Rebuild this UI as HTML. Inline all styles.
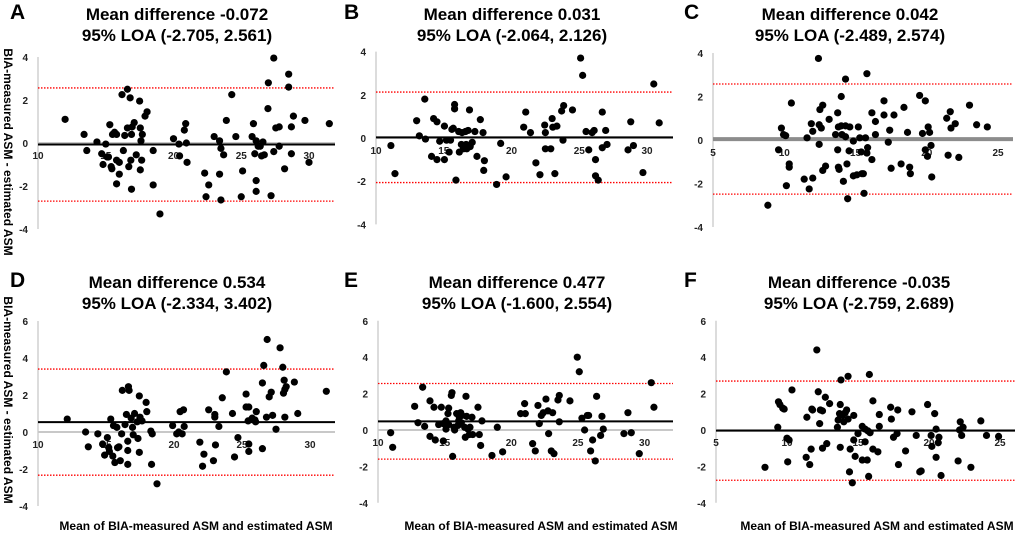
<!DOCTYPE html>
<html><head><meta charset="utf-8">
<style>
html,body{margin:0;padding:0;background:#fff;}
body{width:1020px;height:536px;overflow:hidden;position:relative;font-family:"Liberation Sans","Noto Sans CJK KR",sans-serif;}
svg{position:absolute;left:0;top:0;}
</style></head>
<body>
<svg id="chart" width="1020" height="536" viewBox="0 0 1020 536" xmlns="http://www.w3.org/2000/svg"></svg>
<script>
// ---- data ----
const aX=[12.0,13.4,13.6,14.35,14.7,14.8,15.0,15.1,15.2,15.3,15.4,15.45,15.5,15.65,15.8,15.8,15.8,16.0,16.0,16.2,16.3,16.4,16.6,16.6,16.7,16.8,16.85,16.9,16.9,16.95,17.1,17.25,17.5,17.55,17.55,17.6,17.65,17.7,17.9,18.05,18.5,18.5,19.0,20.0,20.4,20.45,20.8,20.9,20.95,21.0,22.3,22.4,22.6,23.0,23.4,23.4,23.5,23.5,23.7,23.9,24.3,24.6,25.1,25.0,25.8,25.9,26.0,26.1,26.1,26.1,26.25,26.4,26.5,26.6,26.7,26.97,27.0,27.2,27.4,27.4,27.55,27.8,27.8,28.2,28.5,28.5,28.7,28.7,28.85,29.7,30.0,31.5];
const aY=[1.1,0.4,-0.35,0.05,-0.5,-1.0,-0.05,-0.65,-0.65,0.85,-1.1,-1.2,0.4,0.5,0.4,-1.9,-0.8,-0.9,-1.45,2.25,-0.35,0.35,2.5,0.7,-1.1,2.1,-0.8,-2.15,0.4,0.75,0.95,-0.55,1.95,0.7,-1.25,0.1,-0.8,0.4,1.25,1.45,-0.35,-1.95,-3.3,0.2,-0.05,-0.6,0.6,0.9,0.0,-0.9,-1.4,-2.5,-1.95,0.3,0.1,-1.45,-2.65,-0.25,-0.55,1.05,2.25,0.3,-1.3,-2.5,0.3,0.9,-0.5,-1.75,-2.25,0.1,-0.15,-0.15,-0.6,0.05,-0.55,1.6,2.8,-2.45,3.95,-0.4,0.7,0.75,-0.15,-1.2,3.2,2.6,-0.5,0.75,1.25,1.05,-0.9,0.9];
const bX=[11.1,11.4,13.0,13.2,13.6,13.65,14.1,14.25,14.5,14.5,14.7,15.05,15.05,15.2,15.4,15.5,15.6,15.7,15.8,15.8,15.9,16.1,16.15,16.3,16.35,16.45,16.6,16.65,16.7,16.8,16.9,16.95,17.1,17.3,17.45,17.7,17.9,18.0,17.95,18.9,19.2,19.6,20.9,21.05,21.4,21.8,22.1,22.45,22.5,22.5,22.9,23.0,23.05,23.2,23.35,23.7,23.85,23.8,24.5,25.1,25.25,25.5,25.7,25.95,26.1,26.2,26.2,26.4,26.7,26.7,26.95,27.05,28.6,28.8,29.0,29.7,30.5,30.9];
const bY=[-0.35,-1.65,0.8,0.1,1.8,-0.05,-0.85,0.9,0.75,-1.0,-0.15,0.55,-1.0,-0.1,-0.65,-0.1,0.4,0.45,1.55,1.35,-1.95,0.3,-0.65,-0.3,0.25,-0.5,0.3,-0.3,-0.5,0.35,1.3,-0.4,-0.2,0.3,-0.85,0.85,0.25,-1.05,-1.5,-2.15,-0.25,-1.8,0.5,1.2,0.25,-1.15,-1.7,0.6,0.25,-0.5,-0.5,0.9,0.5,-1.65,0.55,1.25,1.5,-0.1,1.3,3.7,2.9,0.3,-0.55,0.25,0.35,-1.0,-1.75,-1.95,1.2,-0.45,0.35,-0.3,-0.55,0.75,-0.35,-1.6,2.5,0.7];
const cX=[8.85,9.6,9.8,9.95,10.1,10.15,10.35,10.35,10.5,11.4,11.6,11.75,11.9,12.0,12.0,12.4,12.45,12.45,12.5,12.6,12.7,12.7,12.9,13.15,13.6,13.75,13.75,13.8,13.8,13.85,14.0,14.0,14.05,14.15,14.3,14.3,14.3,14.4,14.45,14.55,14.6,14.85,14.85,15.1,15.2,15.3,15.4,15.45,15.55,15.6,15.7,15.8,15.8,15.85,16.15,16.15,16.4,16.4,17.0,17.0,17.3,17.4,17.5,17.7,18.2,18.4,18.65,18.8,18.85,19.5,19.7,19.9,19.9,20.05,20.1,20.2,20.3,20.35,21.4,21.5,21.65,21.7,22.0,22.25,23.0,23.5,24.25];
const cY=[-3.0,-0.45,0.55,0.25,0.2,-2.1,-1.1,-1.25,1.7,-1.8,0.1,-2.25,0.75,-1.75,0.4,3.75,-0.2,0.7,1.4,0.55,-1.4,1.6,-1.2,0.95,0.25,1.25,-0.45,0.6,-1.25,-1.35,0.65,2.0,0.25,-1.9,0.65,2.8,0.15,-1.1,-2.7,-0.5,0.6,-0.05,-1.65,-1.6,0.6,0.1,-0.55,-1.55,-1.55,-2.45,0.1,3.05,-0.6,-0.35,-0.9,1.25,0.85,0.25,1.8,1.15,-0.1,0.45,-1.3,1.15,-1.1,1.5,0.35,-1.25,-1.55,2.05,0.3,-0.45,1.8,-0.75,0.6,0.35,-0.25,-1.7,1.0,-0.7,1.3,0.55,0.75,-0.8,1.6,0.7,0.6];
const dX=[12.15,13.5,13.7,14.4,14.75,14.9,15.1,15.2,15.25,15.35,15.5,15.55,15.65,15.8,15.85,15.95,16.05,16.15,16.2,16.4,16.5,16.6,16.6,16.6,16.65,16.7,16.85,16.95,17.0,17.1,17.3,17.35,17.45,17.45,17.5,17.65,17.95,18.0,18.3,18.35,18.4,18.75,19.9,20.2,20.35,20.45,20.6,20.7,20.75,21.9,22.1,22.2,22.55,22.9,23.0,23.0,23.05,23.3,23.55,23.85,24.3,24.45,24.7,25.3,25.3,25.5,25.5,25.5,25.45,25.75,25.95,26.0,26.05,26.5,26.5,26.6,26.8,26.85,27.0,27.15,27.25,27.5,27.8,28.0,28.05,28.1,28.15,28.15,28.25,28.85,29.1,31.2];
const dY=[0.7,0.0,-0.8,-0.1,-0.65,-1.25,-0.3,-0.85,-1.05,0.7,-1.3,0.35,-1.65,0.25,-0.85,-0.8,-1.55,-0.1,2.25,0.4,0.95,-0.5,-1.0,-1.75,2.45,2.25,0.75,0.25,-0.15,1.0,0.55,-0.35,1.95,-1.1,0.8,0.6,1.6,1.1,0.05,-1.75,-0.1,-2.8,0.35,-0.1,0.0,1.1,-0.1,1.2,0.3,-0.55,-1.85,-1.2,1.2,-1.55,0.95,0.8,-0.7,0.3,1.85,3.25,1.0,-1.35,-0.3,2.05,1.35,1.35,-0.65,-1.05,0.6,0.75,0.65,0.55,1.1,2.65,-0.9,3.6,0.8,5.0,1.9,2.15,0.9,0.15,4.55,3.5,2.1,2.8,2.3,0.8,2.45,2.7,1.0,2.2];
const eX=[10.95,11.1,12.75,13.0,13.35,13.5,13.9,13.9,14.2,14.3,14.55,14.75,14.9,14.9,15.1,15.1,15.25,15.3,15.3,15.5,15.55,15.6,15.7,15.75,15.9,16.0,16.05,16.1,16.2,16.25,16.3,16.5,16.55,16.6,16.65,16.75,16.85,16.9,17.05,17.1,17.5,17.6,17.7,17.8,18.55,18.95,19.35,20.7,21.0,21.05,21.6,21.8,22.0,22.1,22.25,22.4,22.6,22.75,22.8,23.0,23.1,23.2,23.5,23.6,23.6,24.4,24.95,25.1,25.3,25.5,25.7,25.8,25.95,26.1,26.3,26.4,26.7,26.8,26.9,28.45,28.75,29.0,29.6,30.5,30.7];
const eY=[-0.15,-0.95,1.3,0.4,2.35,0.2,1.6,-0.35,1.25,-0.55,0.3,1.25,0.35,-0.6,0.05,0.5,0.9,1.2,0.3,1.9,2.05,-1.45,0.15,0.0,0.9,0.25,0.5,0.7,0.95,0.4,0.8,0.15,-0.4,1.85,0.75,0.05,-0.25,0.15,0.7,-0.25,1.25,-0.25,-0.85,0.5,-1.4,0.15,-1.2,0.9,1.45,0.9,-0.75,-1.15,1.35,0.35,0.8,0.95,1.7,1.05,-0.2,-1.15,0.95,-1.3,1.65,1.9,0.45,1.6,4.0,3.2,0.65,0.0,0.8,0.8,-1.15,-0.55,-1.7,1.85,-0.3,0.75,0.05,-0.2,0.95,-0.15,-1.3,2.6,1.25];
const fX=[8.45,9.35,9.4,9.5,9.7,9.8,10.0,10.05,10.15,10.35,11.35,11.4,11.6,11.7,11.75,11.8,12.1,12.2,12.3,12.35,12.5,12.5,12.7,12.8,13.0,13.55,13.6,13.7,13.75,13.75,13.8,13.9,14.0,14.1,14.2,14.3,14.3,14.4,14.45,14.6,14.7,14.7,14.8,15.0,15.3,15.3,15.5,15.5,15.65,15.7,15.75,15.8,15.85,16.05,16.05,16.4,16.5,16.5,17.3,17.35,17.5,17.75,17.8,17.85,18.35,18.8,19.1,19.35,19.45,19.9,20.15,20.2,20.4,20.5,20.5,20.65,20.7,20.85,22.05,22.15,22.2,22.3,22.4,22.95,23.65,24.05,24.9];
const fY=[-2.05,0.15,1.55,1.4,1.2,1.15,-0.45,-1.75,-0.55,2.2,-1.5,0.7,-1.9,-1.05,1.15,1.1,4.4,2.1,0.35,1.1,1.05,-1.0,1.8,-0.75,1.45,0.15,0.55,0.9,1.4,-0.95,2.75,0.8,0.45,0.95,1.1,0.6,2.95,-2.3,-1.05,-2.9,0.8,-0.55,-1.45,-0.2,0.2,-1.65,-0.65,0.05,-1.65,-0.05,-2.55,3.05,-0.15,1.6,-1.05,-1.2,0.85,0.2,1.25,0.6,-0.4,-0.2,1.1,-1.9,-1.15,1.0,-0.3,-2.3,-2.25,1.4,-0.3,-0.9,0.9,0.05,-1.5,-0.7,-0.4,-2.5,-1.7,0.0,0.45,-0.3,0.15,-2.05,0.5,-0.3,-0.35];
const meanDiffs=[-0.072,0.031,0.042,0.534,0.477,-0.035];
const loaLow=[-2.705,-2.064,-2.489,-2.334,-1.600,-2.759];
const loaHigh=[2.561,2.126,2.574,3.402,2.554,2.689];
const panelLetters=["A","B","C","D","E","F"];
const xTicksTop=[10,15,20,25,30];
const xTicksC=[5,10,15,20,25];
const yTicksTop=[4,2,0,-2,-4];
const yTicksBottom=[6,4,2,0,-2,-4];

// ---- layout (pixels) ----
const panels=[
 {xs:aX,ys:aY,x0:10,px0:38,sx:13.55,right:335,py0:143,sy:21.5,ymin:-4,ymax:4,xt:xTicksTop,yt:yTicksTop,tcx:177,ty:20,lx:10,meanColor:"#000",meanW:2,xlab:null},
 {xs:bX,ys:bY,x0:10,px0:376,sx:13.55,right:673,py0:138,sy:21.6,ymin:-4,ymax:4,xt:xTicksTop,yt:yTicksTop,tcx:512,ty:20,lx:344,meanColor:"#000",meanW:2,xlab:null},
 {xs:cX,ys:cY,x0:5,px0:713,sx:14.25,right:1013,py0:140,sy:21.75,ymin:-4,ymax:4,xt:xTicksC,yt:yTicksTop,tcx:850,ty:20,lx:684,meanColor:"#8c8c8c",meanW:4,xlab:null},
 {xs:dX,ys:dY,x0:10,px0:38,sx:13.6,right:335,py0:432,sy:18.5,ymin:-4,ymax:6,xt:xTicksTop,yt:yTicksBottom,tcx:177,ty:288,lx:10,meanColor:"#000",meanW:2,xlab:196},
 {xs:eX,ys:eY,x0:10,px0:378,sx:13.33,right:673,py0:430,sy:18.2,ymin:-4,ymax:6,xt:xTicksTop,yt:yTicksBottom,tcx:517,ty:288,lx:344,meanColor:"#000",meanW:2,xlab:541},
 {xs:fX,ys:fY,x0:5,px0:716,sx:14.2,right:1015,py0:430,sy:18.2,ymin:-4,ymax:6,xt:xTicksC,yt:yTicksBottom,tcx:859,ty:288,lx:684,meanColor:"#000",meanW:2,xlab:877}
];
const NS="http://www.w3.org/2000/svg";
const svg=document.getElementById('chart');
function mk(tag,attrs,parent){const e=document.createElementNS(NS,tag);for(const k in attrs)e.setAttribute(k,attrs[k]);(parent||svg).appendChild(e);return e;}

panels.forEach((p,i)=>{
  const g=mk('g',{});
  
  
  const X=v=>p.px0+(v-p.x0)*p.sx;
  const Y=v=>p.py0-v*p.sy;
  // letter
  const lt=mk('text',{x:p.lx,y:p.ty-1,'font-size':21,'font-weight':'bold',fill:'#000'},g);
  lt.textContent=panelLetters[i];
  
  
  // title
  const sgn=v=>v.toFixed(3);
  const t1=mk('text',{x:p.tcx,y:p.ty,'font-size':17,'font-weight':'bold','text-anchor':'middle',fill:'#000'},g);
  t1.textContent='Mean difference '+sgn(meanDiffs[i]);
  
  
  const t2=mk('text',{x:p.tcx,y:p.ty+21,'font-size':17,'font-weight':'bold','text-anchor':'middle',fill:'#000'},g);
  t2.textContent='95% LOA ('+sgn(loaLow[i])+', '+sgn(loaHigh[i])+')';
  
  
  // y axis
  const ya=mk('line',{x1:p.px0,x2:p.px0,y1:Y(p.ymax),y2:Y(p.ymin),stroke:'#d0d0d0','stroke-width':1.5},g);
  
  
  p.yt.forEach(v=>{
    const tt=mk('text',{x:p.px0-10,y:Y(v)+4,'font-size':10,'font-weight':'bold','text-anchor':'end',fill:'#222'},g);
    tt.textContent=String(v);
    
    
  });
  // zero axis
  const xa=mk('line',{x1:p.px0,x2:p.right,y1:Y(0),y2:Y(0),stroke:'#c8c8c8','stroke-width':2},g);
  
  
  p.xt.forEach(v=>{
    const tt=mk('text',{x:X(v),y:Y(0)+16,'font-size':10,'font-weight':'bold','text-anchor':'middle',fill:'#222'},g);
    tt.textContent=String(v);
    
    
  });
  // LOA lines
  [loaLow[i],loaHigh[i]].forEach(v=>{
    const l=mk('line',{x1:p.px0,x2:p.right,y1:Y(v),y2:Y(v),stroke:'#ff0000','stroke-width':1.3,'stroke-dasharray':'1.5,1.5'},g);
    
    
  });
  // mean line
  const ml=mk('line',{x1:p.px0,x2:p.right,y1:Y(meanDiffs[i]),y2:Y(meanDiffs[i]),stroke:p.meanColor,'stroke-width':p.meanW},g);
  
  
  // points
  p.xs.forEach((xv,k)=>{
    const c=mk('circle',{cx:X(xv),cy:Y(p.ys[k]),r:3.6,fill:'#000'},g);
    
    
  });
  if(p.xlab){
    const xl=mk('text',{x:p.xlab,y:530,'font-size':12,'font-weight':'bold','text-anchor':'middle',fill:'#000'},g);
    xl.textContent='Mean of BIA-measured ASM and estimated ASM';
    
    
  }
});
// y axis titles
[{cy:152},{cy:400}].forEach(o=>{
  const t=mk('text',{x:0,y:0,'font-size':12,'font-weight':'bold','text-anchor':'middle',fill:'#000',transform:'translate(4,'+o.cy+') rotate(90)'});
  t.textContent='BIA-measured ASM - estimated ASM';
  
  
});
</script>
</body></html>
